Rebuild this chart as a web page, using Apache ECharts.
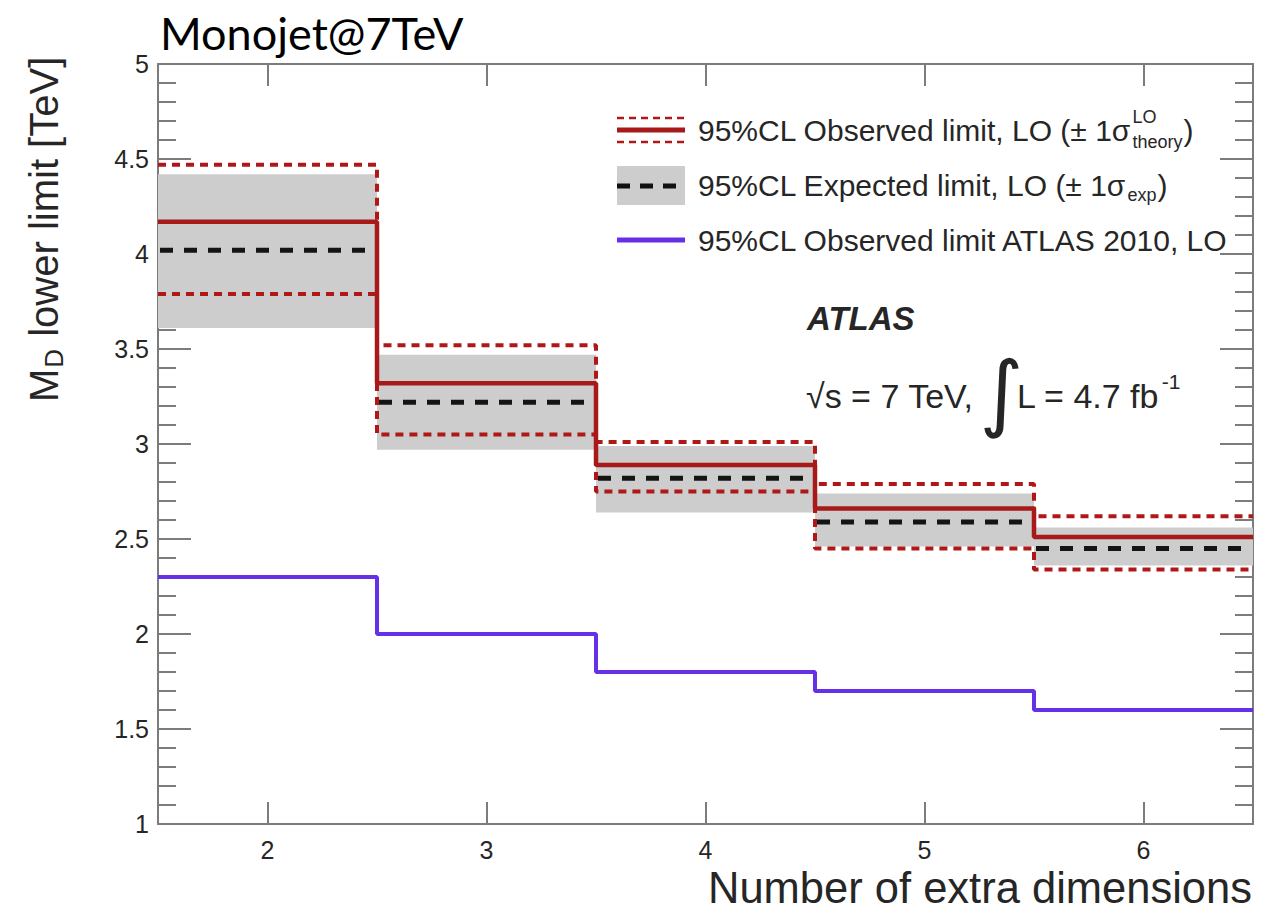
<!DOCTYPE html>
<html>
<head>
<meta charset="utf-8">
<script src="https://cdn.jsdelivr.net/npm/echarts@6/dist/echarts.min.js"></script>
<style>
  html, body { margin: 0; padding: 0; background: #ffffff; }
  #chart { width: 1279px; height: 917px; }
</style>
</head>
<body>
<div id="chart"></div>
<script>
// Number of extra dimensions (bin centres, each bin is one unit wide)
const dims = [2, 3, 4, 5, 6];
// 95% CL observed lower limit on M_D [TeV] with theory band
const observed     = [4.17, 3.32, 2.89, 2.66, 2.51];
const observedUp   = [4.47, 3.52, 3.01, 2.79, 2.62];
const observedDown = [3.79, 3.05, 2.75, 2.45, 2.34];
// 95% CL expected limit with +-1 sigma experimental band
const expected     = [4.02, 3.22, 2.82, 2.59, 2.45];
const expectedUp   = [4.42, 3.47, 2.99, 2.74, 2.56];
const expectedDown = [3.61, 2.97, 2.64, 2.46, 2.36];
// ATLAS 2010 observed limit
const atlas2010    = [2.3, 2.0, 1.8, 1.7, 1.6];
// Axis ranges and tick labels
const xTicks = dims;
const xRange = [1.5, 6.5];
const yRange = [1, 5];
const yStep = 0.5;

const SANS = '"Liberation Sans", Arial, Helvetica, sans-serif';
const RED = '#a81a1a';
const RED_DASH = '#b01818';
const PURPLE = '#6630e6';
const GREY = '#cdcdcd';
const FRAME = '#7c7c7c';
const INK = '#262626';

const halfBin = 0.5;

// Step outline through the bin edges (horizontal across each bin, vertical at the edges)
function stepPoints(vals) {
  const pts = vals.map((v, i) => [dims[i] - halfBin, v]);
  pts.push([dims[dims.length - 1] + halfBin, vals[vals.length - 1]]);
  return pts;
}

const bandData = dims.map((d, i) => [d - halfBin, d + halfBin, expectedDown[i], expectedUp[i]]);
const expData = dims.map((d, i) => [d - halfBin, d + halfBin, expected[i]]);

// text measuring for sub/superscript placement
const mctx = document.createElement('canvas').getContext('2d');
function tw(t, font) { mctx.font = font; return mctx.measureText(t).width; }

function txt(x, y, text, font, opts) {
  opts = opts || {};
  return {
    type: 'text', x: x, y: y, silent: true, z: 100,
    style: {
      text: text, font: font, fill: opts.fill || INK,
      align: opts.align || 'left', textAlign: opts.align || 'left',
      verticalAlign: opts.va || 'middle', textVerticalAlign: opts.va || 'middle'
    }
  };
}

const chart = echarts.init(document.getElementById('chart'), null, { renderer: 'svg' });

// ---- legend ----
const LEG_FONT = '30px ' + SANS;
const LEG_SMALL = '18px ' + SANS;
const legX = 698;
const mkX0 = 617, mkX1 = 685;
const row1 = 130, row2 = 185, row3 = 240;
const graphics = [];

const leg1Main = '95%CL Observed limit, LO (\u00b1 1\u03c3';
const w1 = tw(leg1Main, LEG_FONT);
graphics.push(txt(legX, row1, leg1Main, LEG_FONT));
graphics.push(txt(legX + w1 + 1, row1 - 13, 'LO', LEG_SMALL));
graphics.push(txt(legX + w1 + 1, row1 + 12, 'theory', LEG_SMALL));
graphics.push(txt(legX + w1 + 2 + Math.max(tw('LO', LEG_SMALL), tw('theory', LEG_SMALL)), row1, ')', LEG_FONT));

const leg2Main = '95%CL Expected limit, LO (\u00b1 1\u03c3';
const w2 = tw(leg2Main, LEG_FONT);
graphics.push(txt(legX, row2, leg2Main, LEG_FONT));
graphics.push(txt(legX + w2 + 1, row2 + 10, 'exp', LEG_SMALL));
graphics.push(txt(legX + w2 + 2 + tw('exp', LEG_SMALL), row2, ')', LEG_FONT));

graphics.push(txt(legX, row3, '95%CL Observed limit ATLAS 2010, LO', LEG_FONT));

// legend markers
graphics.push({ type: 'line', z: 90, silent: true, shape: { x1: mkX0, y1: row1 - 12, x2: mkX1, y2: row1 - 12 },
  style: { stroke: RED_DASH, lineWidth: 2.5, lineDash: [7, 5] } });
graphics.push({ type: 'line', z: 90, silent: true, shape: { x1: mkX0, y1: row1, x2: mkX1, y2: row1 },
  style: { stroke: RED, lineWidth: 5 } });
graphics.push({ type: 'line', z: 90, silent: true, shape: { x1: mkX0, y1: row1 + 12, x2: mkX1, y2: row1 + 12 },
  style: { stroke: RED_DASH, lineWidth: 2.5, lineDash: [7, 5] } });
graphics.push({ type: 'rect', z: 89, silent: true, shape: { x: mkX0, y: row2 - 19, width: mkX1 - mkX0, height: 39 },
  style: { fill: GREY } });
graphics.push({ type: 'line', z: 90, silent: true, shape: { x1: mkX0, y1: row2 + 1, x2: mkX1, y2: row2 + 1 },
  style: { stroke: '#111111', lineWidth: 5, lineDash: [13, 10] } });
graphics.push({ type: 'line', z: 90, silent: true, shape: { x1: mkX0, y1: row3, x2: mkX1, y2: row3 },
  style: { stroke: PURPLE, lineWidth: 5 } });

// ---- experiment label ----
graphics.push(txt(807, 318, 'ATLAS', 'italic bold 33px ' + SANS));
const LUMI_FONT = '34px ' + SANS;
const lumiA = '\u221as = 7 TeV,';
graphics.push(txt(806, 396, lumiA, LUMI_FONT));
const intX = 806 + tw(lumiA, LUMI_FONT) + 6;
graphics.push(txt(intX, 392, '\u222b', '84px "DejaVu Sans", ' + SANS));
const lumiB = 'L = 4.7 fb';
const lumiBX = 1017;
graphics.push(txt(lumiBX, 396, lumiB, LUMI_FONT));
graphics.push(txt(lumiBX + tw(lumiB, LUMI_FONT) + 2, 381, '-1', '21px ' + SANS));

// ---- title ----
graphics.push(txt(160, 33, 'Monojet@7TeV', '45px Lato, "Open Sans", sans-serif', { fill: '#000000' }));

// ---- axis titles ----
graphics.push(txt(1252, 888, 'Number of extra dimensions', '43.5px ' + SANS, { align: 'right' }));
const YT_FONT = '40px ' + SANS;
const YT_SUB = '26px ' + SANS;
const wM = tw('M', YT_FONT);
const wD = tw('D', YT_SUB);
graphics.push({
  type: 'group', x: 44, y: 402, rotation: Math.PI / 2, silent: true, z: 100,
  children: [
    txt(0, 0, 'M', YT_FONT),
    txt(wM + 1, 10, 'D', YT_SUB),
    txt(wM + wD + 2, 0, ' lower limit [TeV]', YT_FONT)
  ]
});

const tickLine = { color: FRAME, width: 2 };

function xAxisDef(pos, labels) {
  return {
    type: 'value', position: pos, min: xRange[0], max: xRange[1],
    axisLine: { show: true, onZero: false, lineStyle: tickLine },
    axisTick: { show: true, inside: true, length: 22, customValues: xTicks, lineStyle: tickLine },
    axisLabel: { show: labels, customValues: xTicks, margin: 13, fontSize: 25, fontFamily: SANS, color: INK },
    splitLine: { show: false }
  };
}
function yAxisDef(pos, labels) {
  return {
    type: 'value', position: pos, min: yRange[0], max: yRange[1], interval: yStep,
    axisLine: { show: true, onZero: false, lineStyle: tickLine },
    axisTick: { show: true, inside: true, length: 33, lineStyle: tickLine },
    minorTick: { show: true, splitNumber: 5, length: 18, lineStyle: tickLine },
    axisLabel: { show: labels, margin: 9, fontSize: 25, fontFamily: SANS, color: INK },
    splitLine: { show: false }, minorSplitLine: { show: false }
  };
}

chart.setOption({
  animation: false,
  backgroundColor: '#ffffff',
  grid: { left: 158, right: 26, top: 64, bottom: 93, containLabel: false },
  xAxis: [xAxisDef('bottom', true), xAxisDef('top', false)],
  yAxis: [yAxisDef('left', true), yAxisDef('right', false)],
  graphic: { elements: graphics },
  series: [
    {
      name: 'Expected band', type: 'custom', z: 1, silent: true,
      encode: { x: [0, 1], y: [2, 3] },
      data: bandData,
      renderItem: function (params, api) {
        const a = api.coord([api.value(0), api.value(3)]);
        const b = api.coord([api.value(1), api.value(2)]);
        return { type: 'rect', shape: { x: a[0], y: a[1], width: b[0] - a[0], height: b[1] - a[1] },
          style: { fill: GREY } };
      }
    },
    {
      name: 'Expected', type: 'custom', z: 2, silent: true,
      encode: { x: [0, 1], y: 2 },
      data: expData,
      renderItem: function (params, api) {
        const a = api.coord([api.value(0), api.value(2)]);
        const b = api.coord([api.value(1), api.value(2)]);
        return { type: 'line', shape: { x1: a[0] + 2, y1: a[1], x2: b[0] - 6, y2: b[1] },
          style: { stroke: '#141414', lineWidth: 5, lineDash: [13, 11] } };
      }
    },
    {
      name: 'Observed +1 sigma', type: 'line', step: 'end', z: 3, silent: true,
      data: stepPoints(observedUp), showSymbol: false, clip: true,
      lineStyle: { color: RED_DASH, width: 4, type: [8, 6] }
    },
    {
      name: 'Observed -1 sigma', type: 'line', step: 'end', z: 3, silent: true,
      data: stepPoints(observedDown), showSymbol: false, clip: true,
      lineStyle: { color: RED_DASH, width: 4, type: [8, 6] }
    },
    {
      name: 'Observed', type: 'line', step: 'end', z: 4, silent: true,
      data: stepPoints(observed), showSymbol: false, clip: true,
      lineStyle: { color: RED, width: 4.5 }
    },
    {
      name: 'ATLAS 2010', type: 'line', step: 'end', z: 4, silent: true,
      data: stepPoints(atlas2010), showSymbol: false, clip: true,
      lineStyle: { color: PURPLE, width: 4 }
    }
  ]
});
</script>
</body>
</html>
